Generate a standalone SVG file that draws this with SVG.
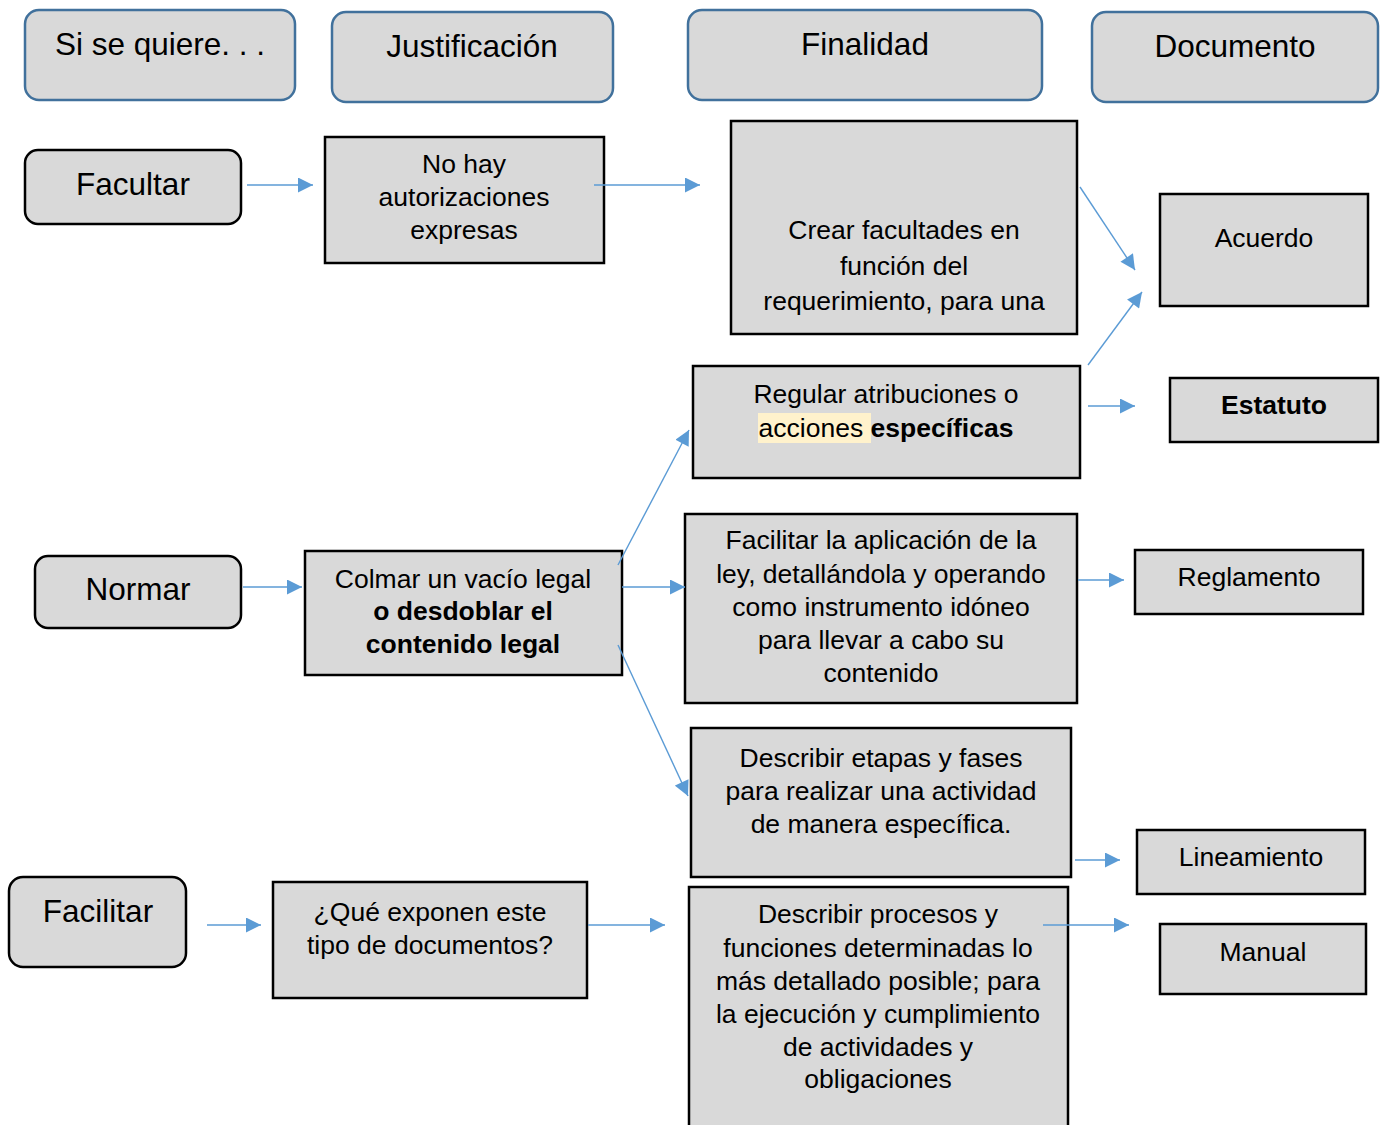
<svg xmlns="http://www.w3.org/2000/svg" width="1387" height="1125" viewBox="0 0 1387 1125">
<defs>
<style>
text{font-family:"Liberation Sans",Arial,sans-serif;fill:#000;text-anchor:middle}
.hdr{fill:#D9D9D9;stroke:#41719C;stroke-width:2.5}
.rnd{fill:#D9D9D9;stroke:#000;stroke-width:2.5}
.box{fill:#D9D9D9;stroke:#000;stroke-width:2.5}
.big{font-size:31.5px}
.t{font-size:26.5px}
.b{font-weight:bold}
.c{fill:none;stroke:#5B9BD5;stroke-width:1.4;marker-end:url(#ah)}
</style>
<marker id="ah" viewBox="0 0 10 10" refX="10" refY="5" markerWidth="16" markerHeight="15" markerUnits="userSpaceOnUse" orient="auto">
<path d="M0,0 L10,5 L0,10 z" fill="#5B9BD5"/>
</marker>
</defs>
<rect width="1387" height="1125" fill="#fff"/>

<g id="h1"><rect class="hdr" x="25" y="10" width="270" height="90" rx="14"/><text class="big" x="160" y="55">Si se quiere. . .</text></g>
<g id="h2"><rect class="hdr" x="332" y="12" width="281" height="90" rx="14"/><text class="big" x="472" y="57">Justificación</text></g>
<g id="h3"><rect class="hdr" x="688" y="10" width="354" height="90" rx="14"/><text class="big" x="865" y="55">Finalidad</text></g>
<g id="h4"><rect class="hdr" x="1092" y="12" width="286" height="90" rx="14"/><text class="big" x="1235" y="57">Documento</text></g>

<g id="facultar"><rect class="rnd" x="25" y="150" width="216" height="74" rx="13"/><text class="big" x="133" y="195">Facultar</text></g>
<g id="normar"><rect class="rnd" x="35" y="556" width="206" height="72" rx="13"/><text class="big" x="138" y="600">Normar</text></g>
<g id="facilitar"><rect class="rnd" x="9" y="877" width="177" height="90" rx="14"/><text class="big" x="98" y="922">Facilitar</text></g>

<g id="nohay"><rect class="box" x="325" y="137" width="279" height="126"/>
<text class="t" x="464"><tspan x="464" y="173">No hay</tspan><tspan x="464" y="206">autorizaciones</tspan><tspan x="464" y="239">expresas</tspan></text></g>

<g id="crear"><rect class="box" x="731" y="121" width="346" height="213"/>
<text class="t"><tspan x="904" y="239">Crear facultades en</tspan><tspan x="904" y="275">función del</tspan><tspan x="904" y="310">requerimiento, para una</tspan></text></g>

<g id="regular"><rect class="box" x="693" y="366" width="387" height="112"/>
<rect x="758" y="413" width="113" height="30" fill="#FFF2CC"/>
<text class="t" x="886" y="403">Regular atribuciones o</text>
<text class="t" x="886" y="437">acciones <tspan class="b">específicas</tspan></text></g>

<g id="colmar"><rect class="box" x="305" y="551" width="317" height="124"/>
<text class="t"><tspan x="463" y="588">Colmar un vacío legal</tspan><tspan class="b" x="463" y="620">o desdoblar el</tspan><tspan class="b" x="463" y="653">contenido legal</tspan></text></g>

<g id="facilitarley"><rect class="box" x="685" y="514" width="392" height="189"/>
<text class="t"><tspan x="881" y="549">Facilitar la aplicación de la</tspan><tspan x="881" y="583">ley, detallándola y operando</tspan><tspan x="881" y="616">como instrumento idóneo</tspan><tspan x="881" y="649">para llevar a cabo su</tspan><tspan x="881" y="682">contenido</tspan></text></g>

<g id="etapas"><rect class="box" x="691" y="728" width="380" height="149"/>
<text class="t"><tspan x="881" y="767">Describir etapas y fases</tspan><tspan x="881" y="800">para realizar una actividad</tspan><tspan x="881" y="833">de manera específica.</tspan></text></g>

<g id="procesos"><rect class="box" x="689" y="887" width="379" height="250"/>
<text class="t"><tspan x="878" y="923">Describir procesos y</tspan><tspan x="878" y="957">funciones determinadas lo</tspan><tspan x="878" y="990">más detallado posible; para</tspan><tspan x="878" y="1023">la ejecución y cumplimiento</tspan><tspan x="878" y="1056">de actividades y</tspan><tspan x="878" y="1088">obligaciones</tspan></text></g>

<g id="que"><rect class="box" x="273" y="882" width="314" height="116"/>
<text class="t"><tspan x="430" y="921">¿Qué exponen este</tspan><tspan x="430" y="954">tipo de documentos?</tspan></text></g>

<g id="acuerdo"><rect class="box" x="1160" y="194" width="208" height="112"/><text class="t" x="1264" y="247">Acuerdo</text></g>
<g id="estatuto"><rect class="box" x="1170" y="378" width="208" height="64"/><text class="t b" x="1274" y="414">Estatuto</text></g>
<g id="reglamento"><rect class="box" x="1135" y="550" width="228" height="64"/><text class="t" x="1249" y="586">Reglamento</text></g>
<g id="lineamiento"><rect class="box" x="1137" y="830" width="228" height="64"/><text class="t" x="1251" y="866">Lineamiento</text></g>
<g id="manual"><rect class="box" x="1160" y="924" width="206" height="70"/><text class="t" x="1263" y="961">Manual</text></g>

<g id="connectors">
<line class="c" x1="247" y1="185" x2="313" y2="185"/>
<line class="c" x1="594" y1="185" x2="700" y2="185"/>
<line class="c" x1="1080" y1="187" x2="1135" y2="270"/>
<line class="c" x1="1088" y1="365" x2="1142" y2="292"/>
<line class="c" x1="1088" y1="406" x2="1135" y2="406"/>
<line class="c" x1="243" y1="587" x2="302" y2="587"/>
<line class="c" x1="618" y1="565" x2="689" y2="430"/>
<line class="c" x1="622" y1="587" x2="685" y2="587"/>
<line class="c" x1="618" y1="645" x2="688" y2="796"/>
<line class="c" x1="1078" y1="580" x2="1124" y2="580"/>
<line class="c" x1="1075" y1="860" x2="1120" y2="860"/>
<line class="c" x1="207" y1="925" x2="261" y2="925"/>
<line class="c" x1="588" y1="925" x2="665" y2="925"/>
<line class="c" x1="1043" y1="925" x2="1129" y2="925"/>
</g>
</svg>
